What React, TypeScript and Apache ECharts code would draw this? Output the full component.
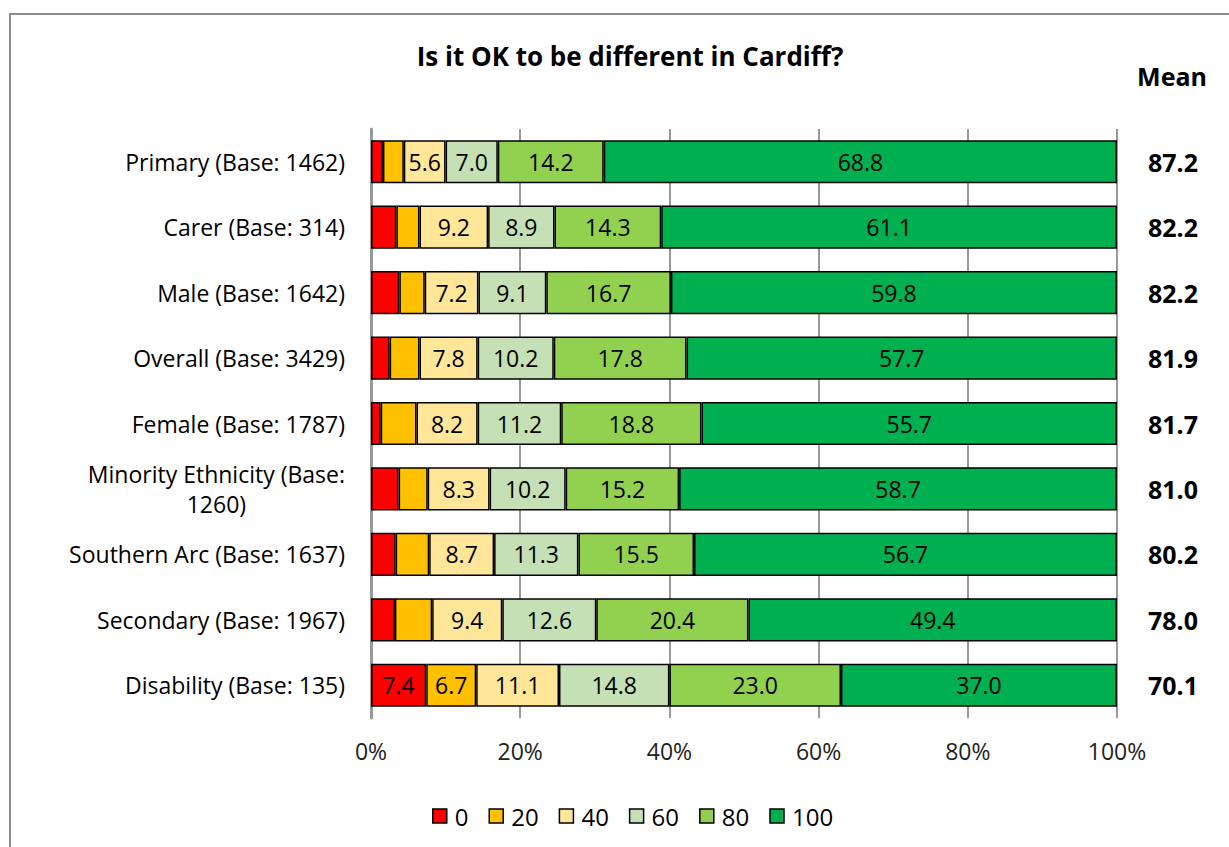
import React, { useEffect, useRef } from "react";
import * as echarts from "echarts";

const categories = [
  "Primary (Base: 1462)",
  "Carer (Base: 314)",
  "Male (Base: 1642)",
  "Overall (Base: 3429)",
  "Female (Base: 1787)",
  "Minority Ethnicity (Base: 1260)",
  "Southern Arc (Base: 1637)",
  "Secondary (Base: 1967)",
  "Disability (Base: 135)",
];
const means = ["87.2", "82.2", "82.2", "81.9", "81.7", "81.0", "80.2", "78.0", "70.1"];
const seriesNames = ["0", "20", "40", "60", "80", "100"];
const v0 = [1.6, 3.4, 3.8, 2.5, 1.3, 3.7, 3.3, 3.2, 7.4];
const v20 = [2.8, 3.1, 3.4, 4.0, 4.8, 3.9, 4.5, 5.0, 6.7];
const v40 = [5.6, 9.2, 7.2, 7.8, 8.2, 8.3, 8.7, 9.4, 11.1];
const v60 = [7.0, 8.9, 9.1, 10.2, 11.2, 10.2, 11.3, 12.6, 14.8];
const v80 = [14.2, 14.3, 16.7, 17.8, 18.8, 15.2, 15.5, 20.4, 23.0];
const v100 = [68.8, 61.1, 59.8, 57.7, 55.7, 58.7, 56.7, 49.4, 37.0];
const xTicks = [0, 20, 40, 60, 80, 100];
const colors = ["#FF0000", "#FFC000", "#FFE699", "#C5E0B4", "#92D050", "#00B050"];

const FONT = "'Open Sans', 'Noto Sans', sans-serif";

export default function App() {
  const ref = useRef<HTMLDivElement>(null);
  useEffect(() => {
    if (!ref.current) return;
    const chart = echarts.init(ref.current, null, { renderer: "svg" });
    const values = [v0, v20, v40, v60, v80, v100];
    chart.setOption({
      animation: false,
      textStyle: { fontFamily: FONT },
      title: {
        text: "Is it OK to be different in Cardiff?",
        left: 625,
        textAlign: "center",
        top: 38,
        textStyle: { fontSize: 26, fontWeight: "bold", color: "#000", fontFamily: FONT },
      },
      graphic: [
        {
          type: "rect",
          shape: { x: 10, y: 14, width: 1240, height: 860 },
          style: { fill: "none", stroke: "#8c8c8c", lineWidth: 2 },
          silent: true,
        },
        {
          type: "text",
          x: 1172,
          y: 76,
          style: {
            text: "Mean",
            fontSize: 25,
            fontWeight: "bold",
            fill: "#000",
            fontFamily: FONT,
            align: "center",
            verticalAlign: "middle",
          },
          silent: true,
        },
      ],
      legend: {
        data: seriesNames,
        bottom: 14,
        left: 427,
        itemWidth: 14,
        itemHeight: 14,
        itemGap: 20,
        icon: "rect",
        itemStyle: { borderColor: "#000", borderWidth: 1.5 },
        textStyle: { fontSize: 24, color: "#000", fontFamily: FONT, padding: [0, 0, 0, 3] },
      },
      grid: { left: 371, right: 1229 - 1117, top: 129, height: 589, containLabel: false },
      xAxis: {
        type: "value",
        min: 0,
        max: 100,
        interval: 20,
        axisLine: { show: false },
        axisTick: { show: false },
        splitLine: { show: true, lineStyle: { color: "#999", width: 2 } },
        axisLabel: {
          formatter: (v: number) => (xTicks.includes(v) ? v + "%" : ""),
          fontSize: 23,
          color: "#222",
          margin: 21,
          fontFamily: FONT,
        },
      },
      yAxis: [
        {
          type: "category",
          data: categories,
          inverse: true,
          axisLine: { show: true, lineStyle: { color: "#999", width: 3 } },
          axisTick: { show: false },
          axisLabel: {
            fontSize: 23,
            color: "#000",
            margin: 26,
            fontFamily: FONT,
            formatter: (v: string) =>
              v.startsWith("Minority")
                ? "{c|Minority Ethnicity (Base:}\n{c|1260)}"
                : v,
            rich: { c: { fontSize: 23, color: "#000", align: "center", lineHeight: 30, fontFamily: FONT } },
          },
        },
        {
          type: "category",
          data: means,
          inverse: true,
          position: "right",
          axisLine: { show: false },
          axisTick: { show: false },
          axisLabel: {
            fontSize: 25,
            fontWeight: "bold",
            color: "#000",
            margin: 56,
            align: "center",
            fontFamily: FONT,
          },
        },
      ],
      series: seriesNames.map((name, i) => ({
        name,
        type: "bar",
        stack: "total",
        yAxisIndex: 0,
        barWidth: "66%",
        data: values[i],
        itemStyle: { color: colors[i], borderColor: "#000", borderWidth: 1.5 },
        label: {
          show: true,
          position: "inside",
          fontSize: 23,
          color: "#000",
          fontFamily: FONT,
          formatter: (p: any) => (p.value >= 5.5 ? Number(p.value).toFixed(1) : ""),
        },
      })),
    });
    return () => chart.dispose();
  }, []);
  return (
    <div
      ref={ref}
      style={{ position: "absolute", left: 0, top: 0, width: 1229, height: 847, background: "#fff" }}
    />
  );
}
